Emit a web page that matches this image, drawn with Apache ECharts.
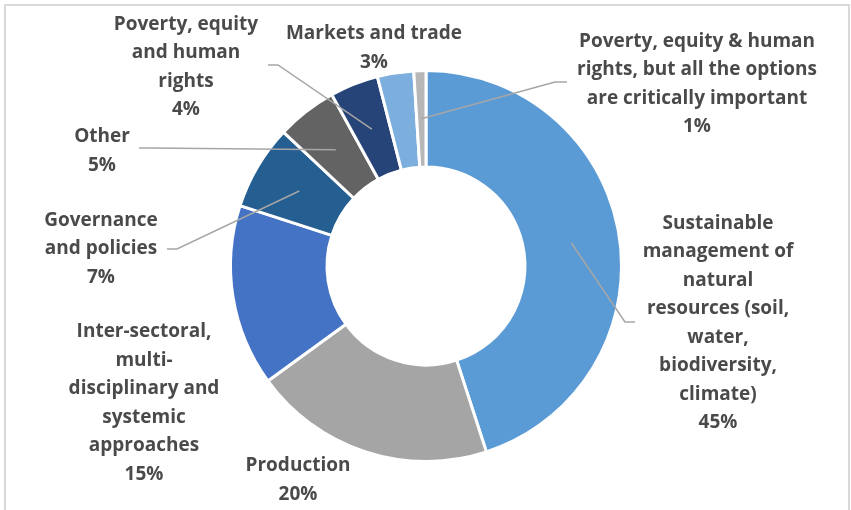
<!DOCTYPE html>
<html>
<head>
<meta charset="utf-8">
<script src="https://cdn.jsdelivr.net/npm/echarts@6/dist/echarts.min.js"></script>
<style>
  html, body { margin: 0; padding: 0; background: #fff; }
  #chart { width: 851px; height: 510px; }
</style>
</head>
<body>
<div id="chart"></div>
<script>
// categories (line breaks as in the original labels)
var categories = [
  'Sustainable\nmanagement of\nnatural\nresources (soil,\nwater,\nbiodiversity,\nclimate)',
  'Production',
  'Inter-sectoral,\nmulti-\ndisciplinary and\nsystemic\napproaches',
  'Governance\nand policies',
  'Other',
  'Poverty, equity\nand human\nrights',
  'Markets and trade',
  'Poverty, equity & human\nrights, but all the options\nare critically important'
];
// share of answers, %
var shares = [45, 20, 15, 7, 5, 4, 3, 1];
var colors = ['#5B9BD5', '#A5A5A5', '#4472C4', '#255E91', '#636363', '#264478', '#7CAFDD', '#B7B7B7'];

// label placement: centre of text block, and (optional) leader line elbow + end at the label
var labelPos = [
  { x: 718, y: 323, line: [[625, 322], [635, 322]] },
  { x: 298, y: 480 },
  { x: 144, y: 403 },
  { x: 101, y: 249, line: [[177, 249], [167, 249]] },
  { x: 102, y: 151, line: [[149, 148], [139, 148]] },
  { x: 186, y: 67, line: [[278, 65], [268, 65]] },
  { x: 374, y: 48 },
  { x: 697, y: 84, line: [[555, 82], [567, 82]] }
];

var cx = 426, cy = 266, rIn = 99, rOut = 195.5;
var rMid = (rIn + rOut) / 2;

var mycharts = echarts.init(document.getElementById('chart'));

var sliceData = [], labelData = [];
for (var i = 0; i < shares.length; i++) {
  sliceData.push({ name: categories[i], value: shares[i], itemStyle: { color: colors[i] } });
  labelData.push({ name: categories[i], value: shares[i], labelLine: { show: !!labelPos[i].line } });
}

var option = {
  backgroundColor: '#fff',
  animation: false,
  graphic: [{
    type: 'rect',
    shape: { x: 5, y: 5, width: 844, height: 600 },
    style: { fill: 'none', stroke: '#D9D9D9', lineWidth: 2 },
    silent: true
  }],
  series: [{
    // the ring itself
    type: 'pie',
    z: 2,
    center: [cx, cy],
    radius: [rIn, rOut],
    startAngle: 90,
    clockwise: true,
    silent: true,
    itemStyle: { borderColor: '#fff', borderWidth: 3 },
    label: { show: false },
    labelLine: { show: false },
    data: sliceData
  }, {
    // same slices, invisible, carrying labels and leader lines above the ring
    type: 'pie',
    z: 3,
    center: [cx, cy],
    radius: [rIn, rOut],
    startAngle: 90,
    clockwise: true,
    silent: true,
    avoidLabelOverlap: false,
    itemStyle: { color: 'rgba(0,0,0,0)', borderWidth: 0 },
    label: {
      show: true,
      position: 'outside',
      formatter: '{b}\n{c}%',
      color: '#4A4A4A',
      fontFamily: 'Open Sans',
      fontWeight: 'bold',
      fontSize: 19,
      lineHeight: 28.5,
      align: 'center'
    },
    labelLine: {
      show: true,
      lineStyle: { color: '#A6A6A6', width: 1.5 }
    },
    labelLayout: function (params) {
      var p = labelPos[params.dataIndex];
      var res = { x: p.x, y: p.y, align: 'center', verticalAlign: 'middle' };
      if (p.line && params.labelLinePoints) {
        // point on the middle of the ring, along the slice's own label direction
        var p0 = params.labelLinePoints[0];
        var dx = p0[0] - cx, dy = p0[1] - cy;
        var d = Math.sqrt(dx * dx + dy * dy);
        var start = [cx + dx / d * rMid, cy + dy / d * rMid];
        res.labelLinePoints = [start, p.line[0], p.line[1]];
      }
      return res;
    },
    data: labelData
  }]
};

mycharts.setOption(option);
</script>
</body>
</html>
